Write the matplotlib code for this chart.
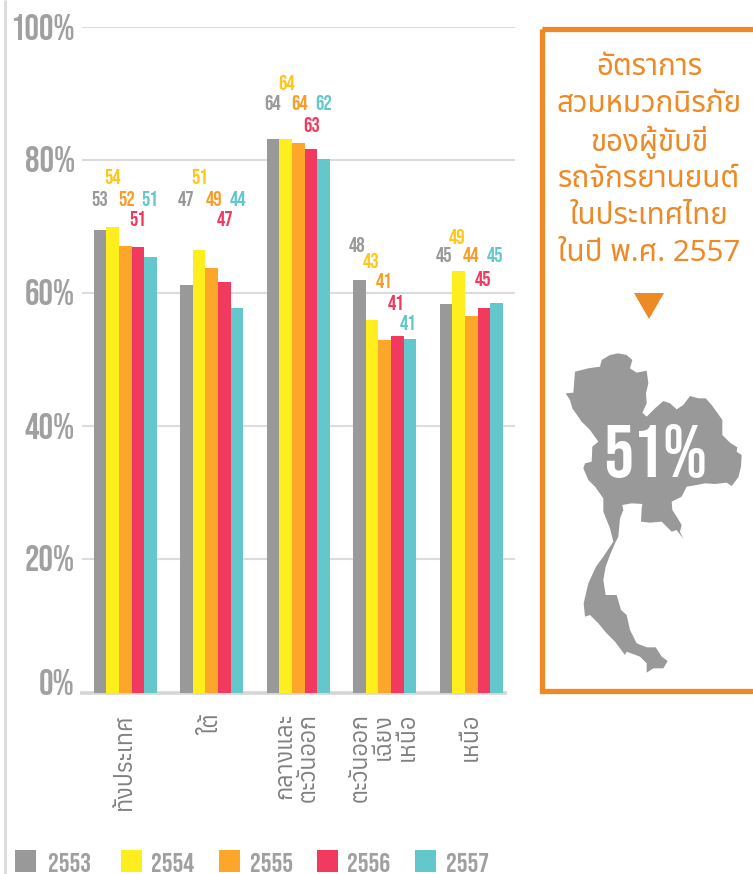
import matplotlib
matplotlib.use('Agg')
from matplotlib import pyplot as plt
from matplotlib.patches import Polygon, Rectangle
import numpy as np

W, H = 753, 874

categories = ['ทั้งประเทศ', 'ใต้', 'กลางและ\nตะวันออก', 'ตะวันออก\nเฉียง\nเหนือ', 'เหนือ']
years = ['2553', '2554', '2555', '2556', '2557']
bars_2553 = [69.5, 61.2, 83.2, 62.0, 58.4]
bars_2554 = [70.0, 66.5, 83.2, 56.0, 63.4]
bars_2555 = [67.1, 63.8, 82.6, 52.9, 56.6]
bars_2556 = [66.9, 61.7, 81.7, 53.5, 57.8]
bars_2557 = [65.4, 57.8, 80.1, 53.1, 58.6]
labels_2553 = [53, 47, 64, 48, 45]
labels_2554 = [54, 51, 64, 43, 49]
labels_2555 = [52, 49, 64, 41, 44]
labels_2556 = [51, 47, 63, 41, 45]
labels_2557 = [51, 44, 62, 41, 45]
y_ticks = [0, 20, 40, 60, 80, 100]
title_lines = ['อัตราการ', 'สวมหมวกนิรภัย', 'ของผู้ขับขี่', 'รถจักรยานยนต์', 'ในประเทศไทย', 'ในปี พ.ศ. 2557']

# label centres in picture pixels, one row per year
label_px_x = [[100, 186, 273, 357, 444], [113, 200, 287, 371, 457], [127, 214, 300, 384, 471],
              [138, 225, 312, 396, 483], [150, 238, 324, 408, 495]]
label_px_y = [[198, 198, 102, 244, 255], [177, 177, 82, 260, 236], [198, 198, 102, 280, 255],
              [219, 219, 124, 302, 278], [198, 198, 102, 322, 255]]
# tick label centres in picture pixels, the 0% sits above its gridline
tick_px_y = [682, 558, 426, 292, 159, 27]

bar_colors = ['#999999', '#FFEE1E', '#FCA72A', '#F23A5E', '#63C7CC']
label_colors = ['#999999', '#FFC719', '#F99D2A', '#F23A5E', '#63C7CC']
GREY = '#A0A0A0'
LINE = '#DCDCDC'
ORANGE = '#EE8A25'

map_outline = [(225,45),(250,40),(275,45),(292,60),(285,85),(305,98),(335,92),(340,130),(333,160),(335,190),
               (322,218),(335,230),(360,205),(385,183),(405,190),(425,208),(445,195),(465,168),(490,175),(512,175),
               (530,195),(548,220),(562,240),(562,285),(585,308),(607,322),(605,335),(620,345),(618,380),(610,412),
               (590,438),(575,428),(540,432),(510,430),(485,435),(455,440),(440,470),(410,485),(412,510),(425,530),
               (440,555),(435,575),(445,597),(425,570),(410,575),(380,545),(345,548),(318,545),(320,505),(322,492),
               (290,490),(262,495),(265,510),(255,535),(250,590),(240,610),(225,645),(212,680),(205,720),(212,765),
               (245,765),(258,810),(275,825),(285,870),(305,910),(335,922),(362,922),(380,950),(398,963),(385,985),
               (355,985),(335,998),(335,970),(315,950),(275,935),(270,945),(240,905),(215,880),(190,850),(165,825),
               (150,830),(146,790),(160,730),(183,680),(205,650),(235,605),(225,565),(205,515),(205,475),(180,440),
               (160,420),(145,385),(150,370),(170,365),(172,320),(190,305),(165,270),(140,245),(112,205),(105,180),
               (92,160),(115,158),(120,95),(160,85),(195,80),(200,60)]

THAI_TITLE = ['Noto Sans Thai', 'DejaVu Sans']
THAI_CAT = ['Anuphan', 'Noto Sans Thai', 'DejaVu Sans']
NARROW = ['Bebas Neue', 'DejaVu Sans']

fig = plt.figure(figsize=(W / 100, H / 100), dpi=100, facecolor='white')
# full-figure axes in picture pixels for everything outside the plot
bg = fig.add_axes([0, 0, 1, 1])
bg.set_xlim(0, W)
bg.set_ylim(H, 0)
bg.axis('off')

ax = fig.add_axes([82 / W, 1 - 692.5 / H, 432.5 / W, 665.5 / H])
ax.patch.set_alpha(0)
ax.set_xlim(-0.5, 4.5)
ax.set_ylim(0, 100)

series = [bars_2553, bars_2554, bars_2555, bars_2556, bars_2557]
values = [labels_2553, labels_2554, labels_2555, labels_2556, labels_2557]
x = np.arange(len(categories))
bar_w = 0.146
for i, s in enumerate(series):
    ax.bar(x + (i - 2) * bar_w, s, bar_w, color=bar_colors[i], zorder=3)
    for j, v in enumerate(values[i]):
        bg.text(label_px_x[i][j], label_px_y[i][j], str(v), color=label_colors[i], family=NARROW,
                fontsize=15, ha='center', va='center_baseline', zorder=5)

for s in ax.spines.values():
    s.set_visible(False)
ax.set_yticks(y_ticks)
ax.set_yticklabels([])
ax.tick_params(axis='y', length=0)
ax.set_xticks([])
ax.grid(axis='y', color=LINE, lw=1.5, zorder=1)
ax.get_ygridlines()[0].set_visible(False)
ax.set_axisbelow(True)
for t, py in zip(y_ticks, tick_px_y):
    bg.text(75, py, f'{t}%', family=NARROW, fontsize=26, color=GREY, ha='right', va='center_baseline')
bg.plot([80, 507], [692.5, 692.5], color='#D6D6D6', lw=2.6, solid_capstyle='butt')
bg.plot([5, 5], [0, H], color=LINE, lw=2.2, solid_capstyle='butt')

cat_x = [125, 212, 297, 384, 471]
for i, c in enumerate(categories):
    bg.text(cat_x[i], 713, c, rotation=90, ha='center', va='top', multialignment='right',
            family=THAI_CAT, fontsize=16.8, color='#808080', linespacing=1.08)

# legend squares, laid out as in the picture
leg_x = [15, 121, 219, 317, 415]
leg_text_x = [48, 151, 250, 347, 446]
for i, y in enumerate(years):
    bg.add_patch(Rectangle((leg_x[i], 850), 21.5, 22, color=bar_colors[i], lw=0))
    bg.text(leg_text_x[i], 862, y, family=NARROW, fontsize=19.5, color=GREY, va='center_baseline')

# orange box, open at the right edge of the picture
bg.add_patch(Rectangle((542.5, 28.5), 240, 662.5, fill=False, ec=ORANGE, lw=3.8))
for i, line in enumerate(title_lines):
    bg.text(649, 64 + i * 37.2, line, family=THAI_TITLE, fontsize=21.3, color=ORANGE, ha='center', va='center_baseline')
bg.add_patch(Polygon([(634, 293), (664, 293), (649, 319)], color=ORANGE, lw=0))
bg.add_patch(Polygon([(535 + a / 3, 340 + b / 3) for a, b in map_outline], color='#999999', lw=0))
bg.text(655, 451, '51%', family=NARROW, fontsize=54, color='white', ha='center', va='center_baseline')

fig.savefig('out.png', dpi=100)
